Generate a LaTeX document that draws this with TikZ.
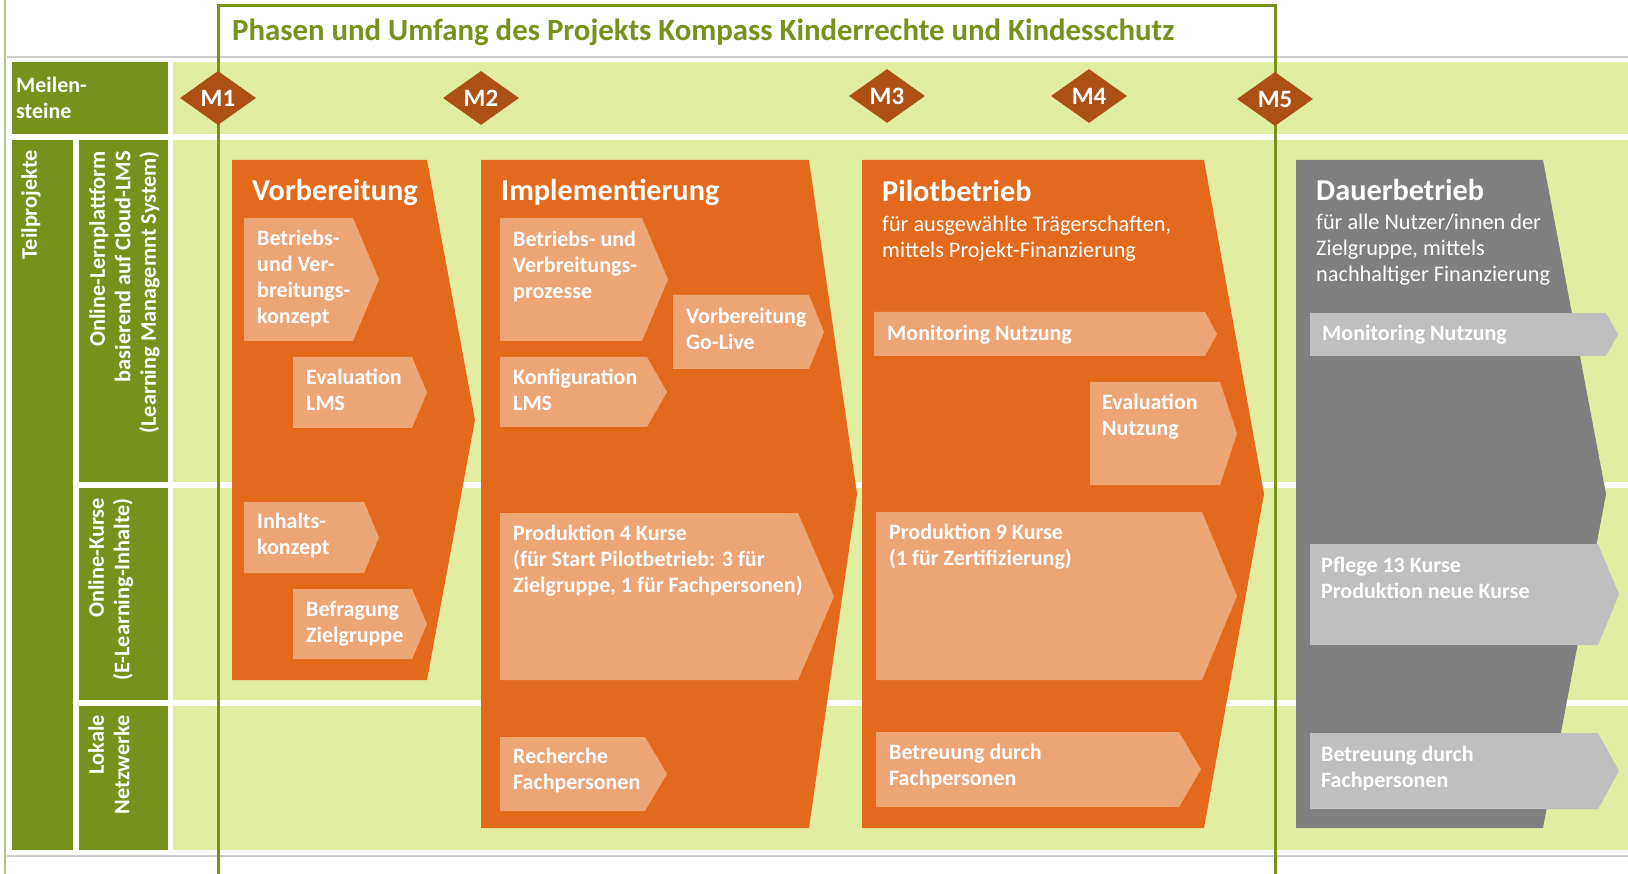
\documentclass[tikz,border=0pt]{standalone}
\usepackage{fontspec}
\setmainfont{Carlito}
\usetikzlibrary{shapes.geometric}
\tikzset{
    arrow shape/.style n args={5}{  % left, top, right, bottom, depth of the point
        insert path={
            (#1,#2) -- (#3,#2) -- ({#3+#5},{(#2+#4)/2}) % Point at half height
            -- (#3,#4) -- (#1,#4) -- cycle
        }
    }
}

\begin{document}
\begin{tikzpicture}[x=1pt,y=-1pt]
  % Colors
    \definecolor{olive}{RGB}{118,146,28}
    \definecolor{band}{RGB}{225,237,160}
    \definecolor{phaseorange}{RGB}{227,106,29}
    \definecolor{steporange}{RGB}{238,165,118}
    \definecolor{phasegrey}{RGB}{127,127,127}
    \definecolor{stepgrey}{RGB}{191,191,191}
    \definecolor{mscolor}{RGB}{172,80,22}
    \definecolor{rulegrey}{RGB}{205,205,205}
    \definecolor{edgegreen}{RGB}{176,196,140}

  % Styles
    \tikzstyle{title}=[anchor=base west, inner sep=0pt, text=olive, font=\fontsize{30.8}{36}\selectfont\bfseries]
    \tikzstyle{phasetitle}=[anchor=base west, inner sep=0pt, text=white, font=\fontsize{30.3}{36}\selectfont\bfseries]
    \tikzstyle{phasenote}=[anchor=north west, inner sep=0pt, align=left, text=white, font=\fontsize{22.3}{26}\selectfont]
    \tikzstyle{stepnote}=[anchor=north west, inner sep=0pt, align=left, text=white, font=\fontsize{22}{26}\selectfont\bfseries]
    \tikzstyle{sidelabel}=[rotate=90, anchor=north east, inner sep=0pt, align=right, text=white, font=\fontsize{22.3}{25.5}\selectfont\bfseries]
    \tikzstyle{milestone}=[diamond, fill=mscolor, inner sep=0pt, minimum width=76pt, minimum height=54pt, text=white, font=\fontsize{25}{30}\selectfont\bfseries]

  % The graphic
    \useasboundingbox (0,0) rectangle (1628,874);

  % bands
    \fill[band] (173,62) rectangle (1628,850);
    \foreach \y in {137,485,703}
      \draw[white, line width=6pt] (173,\y) -- (1628,\y);

  % header column
    \fill[olive] (12,62) rectangle (168,134);
    \fill[olive] (12,140) rectangle (73,850);
    \foreach \ya/\yb in {140/482, 488/700, 706/850}
      \fill[olive] (79,\ya) rectangle (168,\yb);

    \node[stepnote] (meilen) at (16,77) {Meilen-\\steine};
    \node[sidelabel] (teil) at (21,150) {Teilprojekte};
    \node[sidelabel] (lms) at (89,151) {Online-Lernplattform\\basierend auf Cloud-LMS\\(Learning Managemnt System)};
    \node[sidelabel] (kurse) at (88,498) {Online-Kurse\\(E-Learning-Inhalte)};
    \node[sidelabel] (netz) at (88,715) {Lokale\\Netzwerke};

  % outer rules
    \draw[edgegreen, line width=1.5pt] (5,0) -- (5,874);
    \draw[rulegrey, line width=1.5pt] (7,57) -- (1628,57);
    \draw[rulegrey, line width=1.5pt] (7,856) -- (1628,856);

  % project frame
    \draw[olive, line width=3pt] (218,874) -- (218,6) -- (1275,6) -- (1275,874);
    \node[title] (titel) at (232,41) {Phasen und Umfang des Projekts Kompass Kinderrechte und Kindesschutz};

  % milestones
    \foreach \m/\x/\y in {M1/218/98, M2/481/98, M3/887/96, M4/1089/96, M5/1275/99}
      \node[milestone] (\m) at (\x,\y) {\m};

  % Vorbereitung
    \fill[phaseorange, arrow shape={232}{160}{427}{680}{48}];
    \node[phasetitle] (vorb) at (252,201) {Vorbereitung};
    \fill[steporange, arrow shape={244}{218}{353}{341}{26}];
    \node[stepnote] (vorb-konzept) at (257,230) {Betriebs-\\und Ver-\\breitungs-\\konzept};
    \fill[steporange, arrow shape={293}{357}{412}{428}{15}];
    \node[stepnote] (vorb-eval) at (306,369) {Evaluation\\LMS};
    \fill[steporange, arrow shape={244}{502}{364}{573}{15}];
    \node[stepnote] (vorb-inhalt) at (257,513) {Inhalts-\\konzept};
    \fill[steporange, arrow shape={293}{589}{412}{659}{15}];
    \node[stepnote] (vorb-befragung) at (306,601) {Befragung\\Zielgruppe};

  % Implementierung
    \fill[phaseorange, arrow shape={481}{160}{809}{828}{48}];
    \node[phasetitle] (impl) at (501,201) {Implementierung};
    \fill[steporange, arrow shape={500}{218}{642}{341}{26}];
    \node[stepnote] (impl-prozesse) at (513,231) {Betriebs- und\\Verbreitungs-\\prozesse};
    \fill[steporange, arrow shape={673}{295}{809}{369}{15}];
    \node[stepnote] (impl-golive) at (686,308) {Vorbereitung\\Go-Live};
    \fill[steporange, arrow shape={500}{357}{647}{427}{20}];
    \node[stepnote] (impl-konfig) at (513,369) {Konfiguration\\LMS};
    \fill[steporange, arrow shape={500}{513}{798}{680}{36}];
    \node[stepnote] (impl-kurse) at (513,525) {Produktion 4 Kurse\\(für Start Pilotbetrieb: 3 für\\Zielgruppe, 1 für Fachpersonen)};
    \fill[steporange, arrow shape={500}{737}{645}{811}{22}];
    \node[stepnote] (impl-recherche) at (513,748) {Recherche\\Fachpersonen};

  % Pilotbetrieb
    \fill[phaseorange, arrow shape={862}{160}{1204}{828}{60}];
    \node[phasetitle] (pilot) at (882,202) {Pilotbetrieb};
    \node[phasenote] (pilot-note) at (882,216) {für ausgewählte Trägerschaften,\\mittels Projekt-Finanzierung};
    \fill[steporange, arrow shape={874}{312}{1205}{356}{12}];
    \node[stepnote] (pilot-monitor) at (887,325) {Monitoring Nutzung};
    \fill[steporange, arrow shape={1090}{382}{1220}{485}{17}];
    \node[stepnote] (pilot-eval) at (1102,394) {Evaluation\\Nutzung};
    \fill[steporange, arrow shape={876}{512}{1202}{680}{35}];
    \node[stepnote] (pilot-kurse) at (889,524) {Produktion 9 Kurse\\(1 für Zertifizierung)};
    \fill[steporange, arrow shape={876}{732}{1179}{807}{22}];
    \node[stepnote] (pilot-betreuung) at (889,744) {Betreuung durch\\Fachpersonen};

  % Dauerbetrieb
    \fill[phasegrey, arrow shape={1296}{160}{1543}{828}{63}];
    \node[phasetitle] (dauer) at (1316,201) {Dauerbetrieb};
    \node[phasenote] (dauer-note) at (1316,214) {für alle Nutzer/innen der\\Zielgruppe, mittels\\nachhaltiger Finanzierung};
    \fill[stepgrey, arrow shape={1310}{313}{1606}{356}{12}];
    \node[stepnote] (dauer-monitor) at (1322,325) {Monitoring Nutzung};
    \fill[stepgrey, arrow shape={1310}{544}{1598}{645}{21}];
    \node[stepnote] (dauer-kurse) at (1321,557) {Pflege 13 Kurse\\Produktion neue Kurse};
    \fill[stepgrey, arrow shape={1310}{733}{1598}{809}{21}];
    \node[stepnote] (dauer-betreuung) at (1321,746) {Betreuung durch\\Fachpersonen};
\end{tikzpicture}
\end{document}
